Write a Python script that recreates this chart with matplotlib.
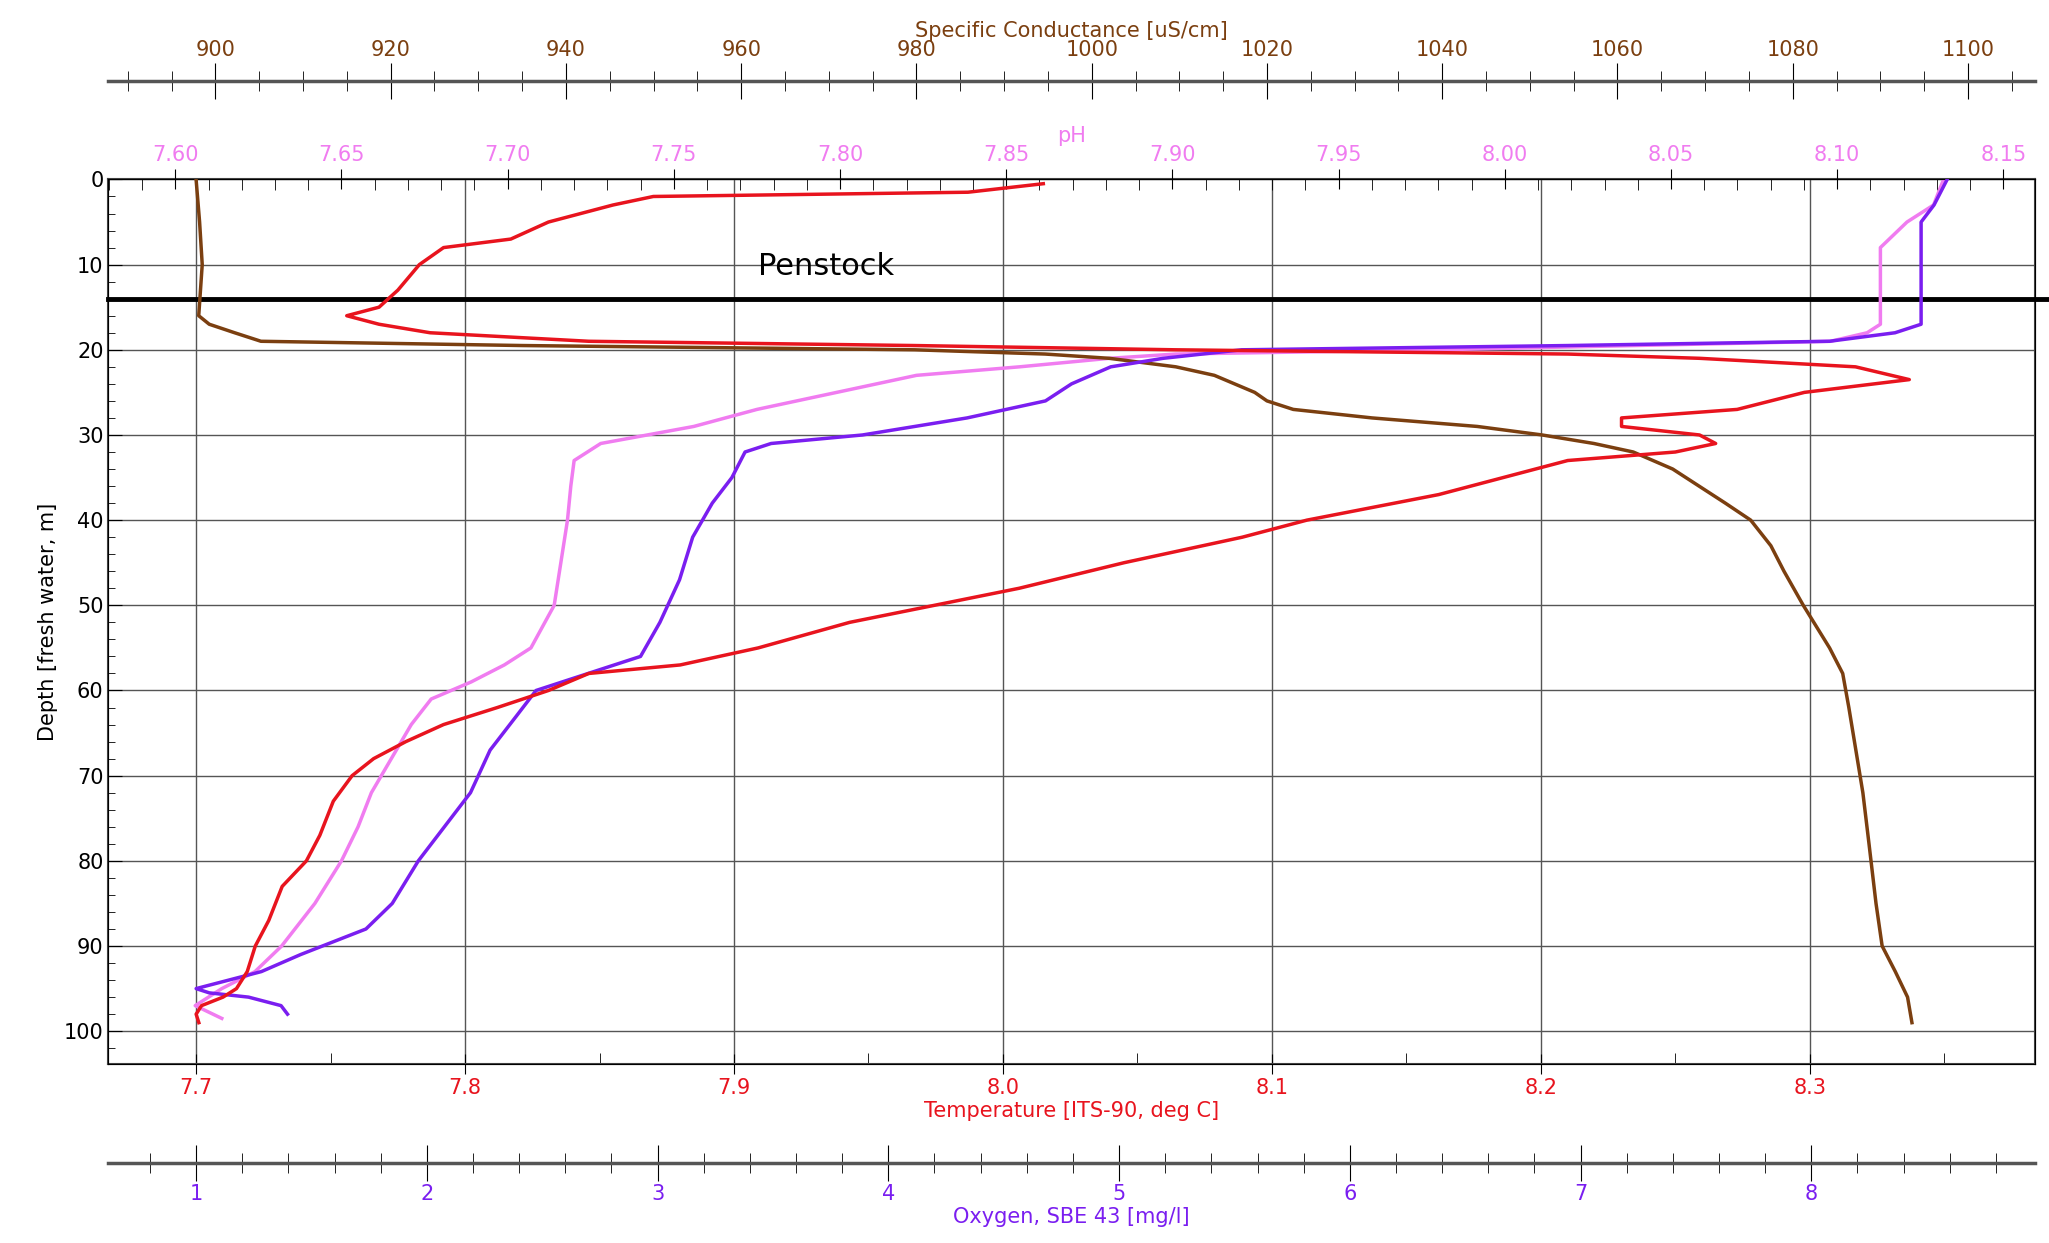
import matplotlib
matplotlib.use("Agg")
import matplotlib.pyplot as plt
from matplotlib.ticker import MultipleLocator

temp_depth = [0.5,1.5,2,3,5,7,8,10,13,15,16,17,18,19,19.5,20,20.5,21,22,23.5,25,27,28,29,30,31,32,33,35,37,40,42,45,48,52,55,57,58,60,62,64,66,68,70,73,77,80,83,87,90,93,95,96,97,98,99]
temp_vals = [8.015,7.987,7.87,7.855,7.831,7.817,7.792,7.783,7.775,7.768,7.756,7.768,7.787,7.846,7.967,8.064,8.21,8.259,8.317,8.337,8.298,8.273,8.23,8.23,8.259,8.265,8.25,8.21,8.186,8.162,8.113,8.089,8.045,8.006,7.943,7.909,7.88,7.846,7.831,7.812,7.792,7.778,7.766,7.758,7.751,7.746,7.741,7.732,7.727,7.722,7.719,7.715,7.71,7.702,7.7,7.701]

cond_depth = [0,5,10,16,17,18,19,19.5,20,20.5,21,22,23,25,26,27,28,29,30,31,32,34,36,38,40,43,46,50,55,58,62,67,72,78,85,90,93,96,99]
cond_vals = [897.8,898.2,898.5,898.1,899.3,902.2,905.2,935,979.8,994.7,1002,1009.6,1014,1018.6,1020,1023,1032,1044,1051.4,1057.3,1061.8,1066.3,1069.3,1072.3,1075.2,1077.5,1079,1081.2,1084.2,1085.7,1086.4,1087.2,1088,1088.7,1089.5,1090.2,1091.7,1093.1,1093.6]

ph_depth = [0,3,5,8,12,17,18,19,20,20.5,21,22,23,25,27,29,31,33,36,40,45,50,55,57,59,61,64,68,72,76,80,85,90,93,95,97,98.5]
ph_vals = [8.132,8.129,8.121,8.113,8.113,8.113,8.109,8.098,7.98,7.901,7.881,7.854,7.823,7.799,7.775,7.756,7.728,7.72,7.719,7.718,7.716,7.714,7.707,7.699,7.689,7.677,7.671,7.665,7.659,7.655,7.65,7.642,7.632,7.624,7.614,7.606,7.614]

oxy_depth = [0,3,5,10,15,17,18,19,19.5,20,21,22,24,26,28,30,31,32,35,38,42,47,52,56,58,60,63,67,72,76,80,85,88,91,93,95,95.5,96,97,98]
oxy_vals = [8.589,8.532,8.476,8.476,8.476,8.476,8.363,8.079,6.946,5.531,5.191,4.964,4.794,4.681,4.341,3.888,3.492,3.379,3.322,3.237,3.152,3.095,3.01,2.926,2.699,2.473,2.388,2.274,2.189,2.076,1.963,1.85,1.736,1.453,1.283,1.0,1.057,1.227,1.368,1.396]

temp_ticks = [7.7,7.8,7.9,8.0,8.1,8.2,8.3]
ph_ticks = [7.60,7.65,7.70,7.75,7.80,7.85,7.90,7.95,8.00,8.05,8.10,8.15]
cond_ticks = [900,920,940,960,980,1000,1020,1040,1060,1080,1100]
oxy_ticks = [1,2,3,4,5,6,7,8]

RED = "#e8141e"; BROWN = "#7b3f10"; PINK = "#f07cf0"; PURPLE = "#7a1ef0"
W, H = 1568, 949
L, R = 83/W, 1557/W
fig = plt.figure(figsize=(20.49, 12.43), dpi=100)
ax = fig.add_axes([L, 1-812/H, R-L, (812-137)/H])
ax.set_ylim(103.8, 0)
ax.set_xlim(7.6674, 8.3836)
ax.set_xticks(temp_ticks)
ax.set_xticklabels([f"{t:.1f}" for t in temp_ticks], color=RED, fontsize=15)
ax.xaxis.set_minor_locator(MultipleLocator(0.05))
ax.yaxis.set_major_locator(MultipleLocator(10))
ax.yaxis.set_minor_locator(MultipleLocator(2))
ax.tick_params(axis='y', labelsize=15, direction='in', length=10)
ax.tick_params(axis='y', which='minor', direction='in', length=5)
ax.tick_params(axis='x', which='major', direction='inout', length=14)
ax.tick_params(axis='x', which='minor', direction='in', length=8)
ax.grid(True, which='major', color='#555555', lw=1)
ax.set_ylabel("Depth [fresh water, m]", fontsize=15)
ax.set_xlabel("Temperature [ITS-90, deg C]", color=RED, fontsize=15, labelpad=2)
for s in ax.spines.values():
    s.set_color('#444444'); s.set_linewidth(1.5)

def twin(xlim):
    t = ax.twiny()
    t.set_xlim(*xlim)
    t.set_ylim(103.8, 0)
    t.axis('off')
    return t

# pH axis on top of frame
axp = ax.twiny()
axp.set_xlim(7.5799, 8.1594)
axp.set_xticks(ph_ticks)
axp.set_xticklabels([f"{t:.2f}" for t in ph_ticks], color=PINK, fontsize=15)
axp.xaxis.set_minor_locator(MultipleLocator(0.01))
axp.tick_params(axis='x', which='major', direction='inout', length=14)
axp.tick_params(axis='x', which='minor', direction='in', length=8)
axp.set_xlabel("pH", color=PINK, fontsize=15, labelpad=2)
axp.plot(ph_vals, ph_depth, color=PINK, lw=2.5)

axc = twin((887.8, 1107.6))
axc.plot(cond_vals, cond_depth, color=BROWN, lw=2.5)
axo = twin((0.62, 8.968))
axo.plot(oxy_vals, oxy_depth, color=PURPLE, lw=2.5)
axt = twin((7.6674, 8.3836))
axt.plot(temp_vals, temp_depth, color=RED, lw=2.5)

ax.axhline(14, xmin=0, xmax=(W-83)/(1557-83), color='black', lw=3.5, clip_on=False, zorder=10)
ax.text(7.7+(580-150)/2058, 10.2, "Penstock", fontsize=22, va='center', ha='left', zorder=10)

def line_axis(ypix, xlim, ticks, labels, color, label, minor, top):
    a = fig.add_axes([L, 1-ypix/H, R-L, 0.0001])
    a.set_xlim(*xlim)
    a.set_yticks([])
    for k in ['left', 'right']:
        a.spines[k].set_visible(False)
    a.spines['top' if top else 'bottom'].set_visible(False)
    keep = 'bottom' if top else 'top'
    a.spines[keep].set_color('#555555'); a.spines[keep].set_linewidth(2.5)
    a.set_xticks(ticks)
    a.set_xticklabels(labels, color=color, fontsize=15)
    a.xaxis.set_minor_locator(MultipleLocator(minor))
    if top:
        a.xaxis.tick_top(); a.xaxis.set_label_position('top')
    a.tick_params(axis='x', which='major', direction='inout', length=26, pad=2)
    a.tick_params(axis='x', which='minor', direction='inout', length=14)
    a.set_xlabel(label, color=color, fontsize=15, labelpad=2)
    return a

line_axis(62, (887.8, 1107.6), cond_ticks, [str(t) for t in cond_ticks], BROWN,
          "Specific Conductance [uS/cm]", 5, True)
line_axis(888, (0.62, 8.968), oxy_ticks, [str(t) for t in oxy_ticks], PURPLE,
          "Oxygen, SBE 43 [mg/l]", 0.2, False)

fig.savefig("out.png", dpi=100)
